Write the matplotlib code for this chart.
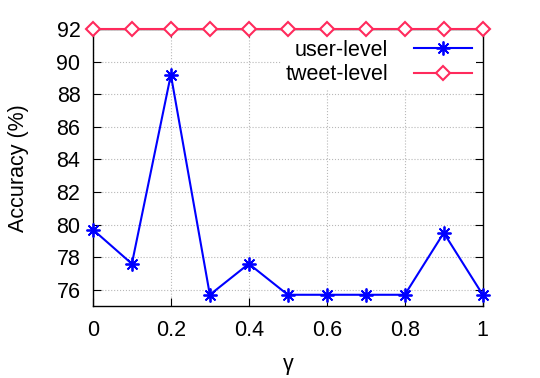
import numpy as np
import matplotlib.pyplot as plt

plt.rcParams['font.family'] = ['Liberation Sans', 'DejaVu Sans']

gamma = [0, 0.1, 0.2, 0.3, 0.4, 0.5, 0.6, 0.7, 0.8, 0.9, 1.0]
user_level = [79.7, 77.6, 89.2, 75.7, 77.6, 75.7, 75.7, 75.7, 75.7, 79.5, 75.7]
tweet_level = [92, 92, 92, 92, 92, 92, 92, 92, 92, 92, 92]
xticks = [0, 0.2, 0.4, 0.6, 0.8, 1]
yticks = [76, 78, 80, 82, 84, 86, 88, 90, 92]

fig = plt.figure(figsize=(5.4, 3.78), dpi=100)
ax = fig.add_axes([0.172, 0.19, 0.722, 0.733])

ax.plot(gamma, user_level, color='#0000ff', lw=1.5, marker=(8, 2, 0),
        markersize=10, markeredgewidth=1.3, label='user-level', clip_on=False, zorder=3)
ax.plot(gamma, tweet_level, color='#ff2a5c', lw=1.5, marker='D',
        markersize=7, markerfacecolor='white', markeredgewidth=1.5,
        label='tweet-level', clip_on=False, zorder=3)

ax.set_xlim(0, 1)
ax.set_ylim(75, 92)
ax.set_xticks(xticks)
ax.set_xticklabels(['0', '0.2', '0.4', '0.6', '0.8', '1'])
ax.set_yticks(yticks)
ax.tick_params(direction='in', top=True, right=True, length=6, width=0.8,
               labelsize=15.5)
ax.tick_params(axis='x', pad=10)
ax.tick_params(axis='y', pad=9)
ax.grid(True, color='#b8b8b8', linestyle=':', lw=0.8)
for s in ax.spines.values():
    s.set_linewidth(1.0)

ax.set_xlabel('γ', fontsize=15.5, labelpad=9)
ax.set_ylabel('Accuracy (%)', fontsize=15.5, labelpad=20)

leg = ax.legend(loc='upper right', markerfirst=False, fontsize=15.5,
                handlelength=2.7, handletextpad=1.2, labelspacing=0.15,
                frameon=True, fancybox=False, framealpha=1,
                edgecolor='none', facecolor='white',
                borderaxespad=0.3, borderpad=0.2)
leg.set_zorder(2)

plt.savefig('out.png', dpi=100)
